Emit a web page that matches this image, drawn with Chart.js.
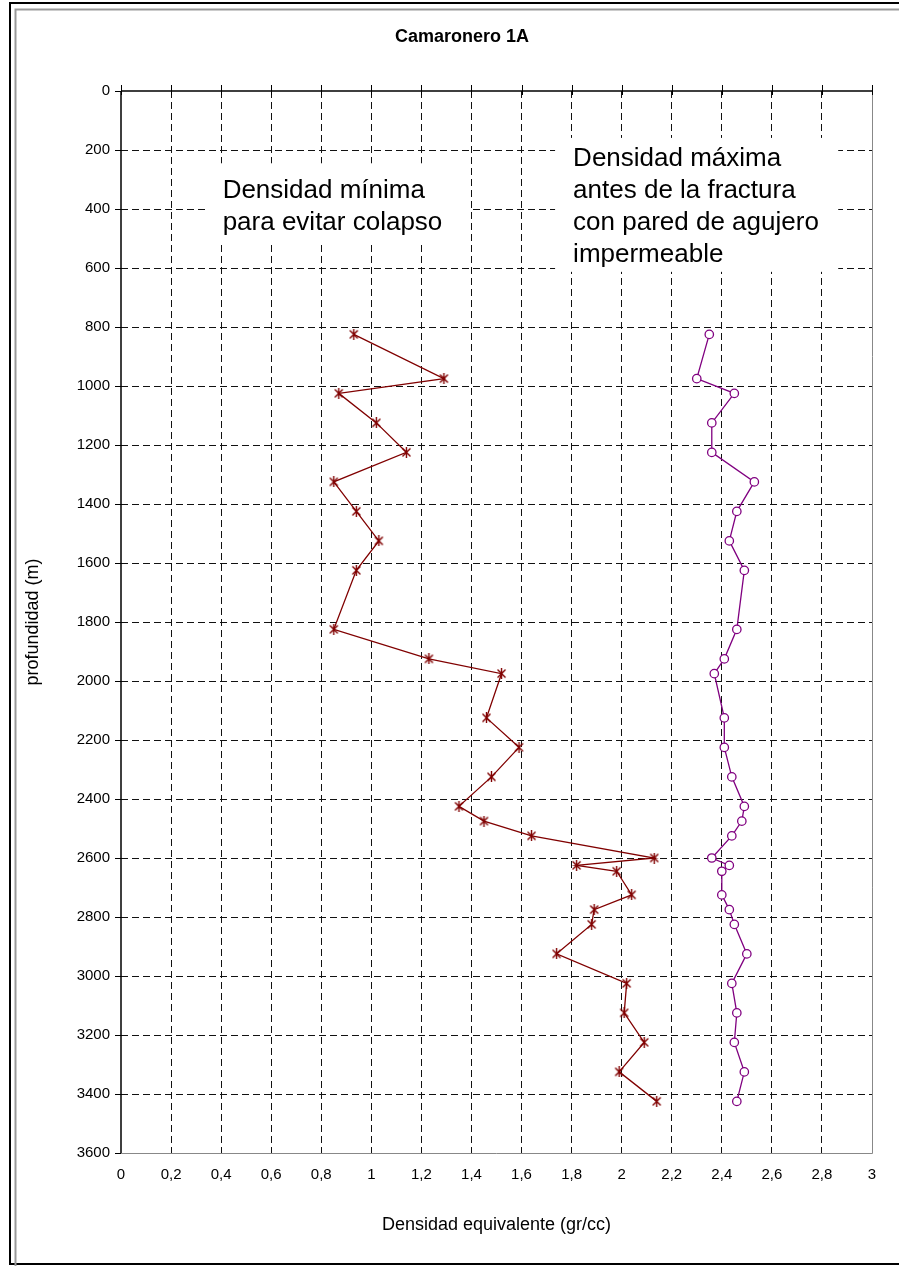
<!DOCTYPE html>
<html>
<head>
<meta charset="utf-8">
<script src="https://cdn.jsdelivr.net/npm/chart.js@4.4.1/dist/chart.umd.min.js"></script>
<style>
  html, body { margin: 0; padding: 0; background: #fff; }
</style>
</head>
<body>
<canvas id="perfil" width="899" height="1266"></canvas>
<script>
// profundidad (m) de cada lectura
const profundidad = [825, 975, 1025, 1125, 1225, 1325, 1425, 1525, 1625, 1825, 1925, 1975, 2125, 2225, 2325, 2425, 2475, 2525, 2600, 2625, 2645, 2725, 2775, 2825, 2925, 3025, 3125, 3225, 3325, 3425];
// densidad minima para evitar colapso (gr/cc)
const densidadMinima = [0.93, 1.29, 0.87, 1.02, 1.14, 0.85, 0.94, 1.03, 0.94, 0.85, 1.23, 1.52, 1.46, 1.59, 1.48, 1.35, 1.45, 1.64, 2.13, 1.82, 1.98, 2.04, 1.89, 1.88, 1.74, 2.02, 2.01, 2.09, 1.99, 2.14];
// densidad maxima antes de la fractura (gr/cc)
const densidadMaxima = [2.35, 2.30, 2.45, 2.36, 2.36, 2.53, 2.46, 2.43, 2.49, 2.46, 2.41, 2.37, 2.41, 2.41, 2.44, 2.49, 2.48, 2.44, 2.36, 2.43, 2.40, 2.40, 2.43, 2.45, 2.50, 2.44, 2.46, 2.45, 2.49, 2.46];

const xTickValues = [0, 0.2, 0.4, 0.6, 0.8, 1, 1.2, 1.4, 1.6, 1.8, 2, 2.2, 2.4, 2.6, 2.8, 3];
const xTickLabels = ['0', '0,2', '0,4', '0,6', '0,8', '1', '1,2', '1,4', '1,6', '1,8', '2', '2,2', '2,4', '2,6', '2,8', '3'];
const yTickValues = [0, 200, 400, 600, 800, 1000, 1200, 1400, 1600, 1800, 2000, 2200, 2400, 2600, 2800, 3000, 3200, 3400, 3600];
const yTickLabels = ['0', '200', '400', '600', '800', '1000', '1200', '1400', '1600', '1800', '2000', '2200', '2400', '2600', '2800', '3000', '3200', '3400', '3600'];

const FUENTE = '"Liberation Sans", Arial, sans-serif';

// notas dentro del grafico (en unidades de los ejes)
const notas = [
  { lineas: ['Densidad mínima', 'para evitar colapso'], x: 0.406, base: 363, caja: [0.336, 245, 1.394, 522] },
  { lineas: ['Densidad máxima', 'antes de la fractura', 'con pared de agujero', 'impermeable'], x: 1.806, base: 254, caja: [1.734, 159, 2.865, 613] }
];

// marcador asterisco tipo Excel
function asterisco(color) {
  const c = document.createElement('canvas');
  c.width = 11; c.height = 11;
  const g = c.getContext('2d');
  g.strokeStyle = color;
  g.lineWidth = 1.4;
  g.beginPath();
  g.moveTo(1.5, 1.5); g.lineTo(9.5, 9.5);
  g.moveTo(9.5, 1.5); g.lineTo(1.5, 9.5);
  g.moveTo(5.5, 0); g.lineTo(5.5, 11);
  g.stroke();
  return c;
}

const puntos = (xs) => xs.map((v, i) => ({ x: v, y: profundidad[i] }));

// etiqueta por valor (no por indice, el eje y va invertido)
const etiqueta = (valores, textos) => (v) => {
  const i = valores.findIndex((t) => Math.abs(t - v) < 1e-6);
  return i < 0 ? '' : textos[i];
};

const sinBordes = (n) => (ctx) => (ctx.index === 0 || ctx.index === n - 1) ? 'rgba(0,0,0,0)' : '#111';

const marco = {
  id: 'marco',
  beforeDraw(chart) {
    const c = chart.ctx;
    c.save();
    c.fillStyle = '#fff';
    c.fillRect(0, 0, chart.width, chart.height);
    c.strokeStyle = '#000';
    c.lineWidth = 2;
    c.strokeRect(10, 3, 900, 1261);
    c.strokeStyle = '#999';
    c.lineWidth = 2;
    c.beginPath();
    c.moveTo(15.5, 1266); c.lineTo(15.5, 9.5); c.lineTo(899, 9.5);
    c.stroke();
    c.restore();
  },
  beforeDatasetsDraw(chart) {
    const c = chart.ctx;
    const a = chart.chartArea;
    const sx = chart.scales.x, sy = chart.scales.y;
    c.save();
    // bordes del area
    c.lineWidth = 1;
    c.strokeStyle = '#888';
    c.beginPath();
    c.moveTo(a.left, a.bottom + 0.5); c.lineTo(a.right + 0.5, a.bottom + 0.5); c.lineTo(a.right + 0.5, a.top);
    c.stroke();
    c.strokeStyle = '#000';
    c.lineWidth = 1.5;
    c.beginPath();
    c.moveTo(a.left, a.top); c.lineTo(a.right, a.top);
    c.moveTo(a.left, a.top); c.lineTo(a.left, a.bottom);
    c.stroke();
    c.lineWidth = 1;
    c.beginPath();
    sx.ticks.forEach((t) => {
      const px = Math.round(sx.getPixelForValue(t.value)) + 0.5;
      c.moveTo(px, a.top - 6); c.lineTo(px, a.top + 4);
    });
    c.stroke();
    // notas con fondo blanco
    notas.forEach((n) => {
      const x0 = sx.getPixelForValue(n.caja[0]), y0 = sy.getPixelForValue(n.caja[1]);
      const x1 = sx.getPixelForValue(n.caja[2]), y1 = sy.getPixelForValue(n.caja[3]);
      c.fillStyle = '#fff';
      c.fillRect(x0, y0, x1 - x0, y1 - y0);
      c.fillStyle = '#000';
      c.font = '26px ' + FUENTE;
      c.textAlign = 'left';
      c.textBaseline = 'alphabetic';
      const px = sx.getPixelForValue(n.x);
      const py = sy.getPixelForValue(n.base);
      n.lineas.forEach((l, i) => c.fillText(l, px, py + i * 32));
    });
    c.restore();
  },
  afterDraw(chart) {
    const c = chart.ctx;
    c.save();
    c.fillStyle = '#000';
    c.font = 'bold 18px ' + FUENTE;
    c.textAlign = 'center';
    c.textBaseline = 'middle';
    c.fillText('Camaronero 1A', 462, 37);
    c.restore();
  }
};

new Chart(document.getElementById('perfil'), {
  type: 'scatter',
  data: {
    datasets: [
      {
        label: 'Densidad mínima',
        data: puntos(densidadMinima),
        showLine: true,
        borderColor: '#800000',
        borderWidth: 1.3,
        pointStyle: asterisco('#800000'),
        pointRadius: 5,
        pointHoverRadius: 5
      },
      {
        label: 'Densidad máxima',
        data: puntos(densidadMaxima),
        showLine: true,
        borderColor: '#800080',
        borderWidth: 1.3,
        backgroundColor: '#fff',
        pointStyle: 'circle',
        pointRadius: 4.2,
        pointBorderWidth: 1.3,
        pointBackgroundColor: '#fff',
        pointBorderColor: '#800080'
      }
    ]
  },
  options: {
    responsive: false,
    animation: false,
    devicePixelRatio: 1,
    layout: { padding: { left: 0, top: 91, right: 27, bottom: 0 } },
    plugins: { legend: { display: false }, tooltip: { enabled: false } },
    scales: {
      x: {
        type: 'linear',
        position: 'bottom',
        min: 0,
        max: 3,
        afterFit: (s) => { s.height = 113; },
        ticks: {
          stepSize: 0.2,
          padding: 13,
          color: '#000',
          font: { family: FUENTE, size: 15 },
          maxRotation: 0,
          callback: etiqueta(xTickValues, xTickLabels)
        },
        grid: {
          color: sinBordes(xTickLabels.length),
          lineWidth: 1,
          drawTicks: false
        },
        border: { display: false, dash: [7, 4] },
        title: {
          display: true,
          text: 'Densidad equivalente (gr/cc)',
          color: '#000',
          font: { family: FUENTE, size: 18 },
          padding: { top: 0, bottom: 30 }
        }
      },
      y: {
        type: 'linear',
        reverse: true,
        min: 0,
        max: 3600,
        afterFit: (s) => { s.width = 121; },
        ticks: {
          stepSize: 200,
          padding: 5,
          color: '#000',
          font: { family: FUENTE, size: 15 },
          callback: etiqueta(yTickValues, yTickLabels)
        },
        grid: {
          color: sinBordes(yTickLabels.length),
          lineWidth: 1,
          drawTicks: true,
          tickLength: 6,
          tickColor: '#000',
          tickBorderDash: []
        },
        border: { display: false, dash: [7, 4] },
        title: {
          display: true,
          text: 'profundidad (m)',
          color: '#000',
          font: { family: FUENTE, size: 18 },
          padding: { top: 22, bottom: 0 }
        }
      }
    }
  },
  plugins: [marco]
});
</script>
</body>
</html>
